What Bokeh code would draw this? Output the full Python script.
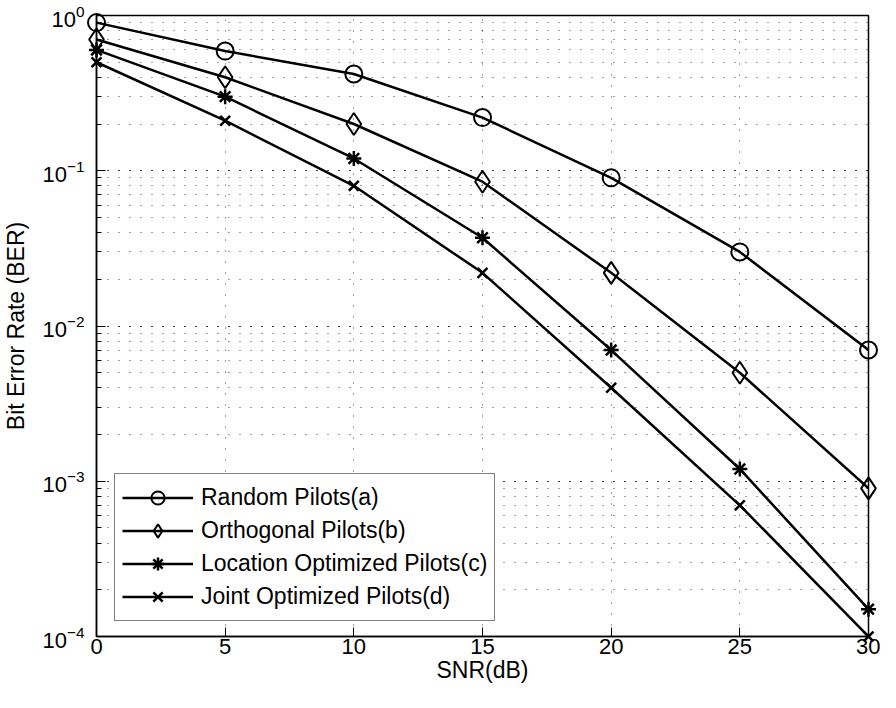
from bokeh.plotting import figure
from bokeh.embed import file_html
from bokeh.resources import INLINE
from bokeh.models import FixedTicker, LogTicker, Legend, LegendItem, Range1d

snr = [0, 5, 10, 15, 20, 25, 30]
ber_random = [0.9, 0.59, 0.42, 0.22, 0.09, 0.03, 0.007]
ber_orth = [0.7, 0.40, 0.20, 0.085, 0.022, 0.005, 0.0009]
ber_loc = [0.6, 0.30, 0.12, 0.037, 0.007, 0.0012, 0.00015]
ber_joint = [0.5, 0.21, 0.08, 0.022, 0.004, 0.0007, 0.0001]
labels = ["Random Pilots(a)", "Orthogonal Pilots(b)", "Location Optimized Pilots(c)", "Joint Optimized Pilots(d)"]
x_ticks = [0, 5, 10, 15, 20, 25, 30]

FONT = "Liberation Sans"

p = figure(width=880, height=692, y_axis_type="log", output_backend="svg",
           toolbar_location=None, x_range=Range1d(0, 30), y_range=Range1d(1e-4, 1),
           min_border_left=90, min_border_top=15, min_border_right=12, min_border_bottom=56)
p.background_fill_color = "white"
p.border_fill_color = "white"
p.outline_line_color = "black"
p.outline_line_width = 1.5

for ax in (p.xaxis[0], p.yaxis[0]):
    ax.major_tick_in = 9
    ax.major_tick_out = 0
    ax.minor_tick_out = 0
    ax.axis_line_width = 1.5
    ax.major_tick_line_width = 1
    ax.major_label_text_font = FONT
    ax.major_label_text_font_size = "22px"
    ax.major_label_text_color = "black"
    ax.axis_label_text_font = FONT
    ax.axis_label_text_font_size = "23px"
    ax.axis_label_text_font_style = "normal"
    ax.axis_label_text_color = "black"

p.xaxis.ticker = FixedTicker(ticks=x_ticks)
p.xaxis.minor_tick_line_color = None
p.xaxis.axis_label = "SNR(dB)"
p.xaxis.major_label_standoff = 2
p.xaxis.axis_label_standoff = 0

p.yaxis.ticker = LogTicker(mantissas=[1], num_minor_ticks=10)
p.yaxis.minor_tick_in = 5
p.yaxis.axis_label = "Bit Error Rate (BER)"
p.yaxis.major_label_standoff = 12
p.yaxis.axis_label_standoff = 10

p.xgrid.ticker = FixedTicker(ticks=x_ticks)
p.xgrid.grid_line_color = "black"
p.xgrid.grid_line_dash = "1 10"
p.xgrid.grid_line_alpha = 0.75
p.ygrid.grid_line_color = "black"
p.ygrid.grid_line_dash = "1 10"
p.ygrid.grid_line_alpha = 0.75
p.ygrid.minor_grid_line_color = "black"
p.ygrid.minor_grid_line_dash = "1 10"
p.ygrid.minor_grid_line_alpha = 0.75

LW = 2.5
items = []
series = [ber_random, ber_orth, ber_loc, ber_joint]
markers = [("circle", 17, 2), ("diamond", 22, 2), ("asterisk", 15, 2.5), ("x", 14, 2.5)]
for i, ys in enumerate(series):
    r_line = p.line(snr, ys, line_color="black", line_width=LW)
    mk, sz, mlw = markers[i]
    r_m = p.scatter(snr, ys, marker=mk, size=sz, fill_color=None, line_color="black",
                    line_width=mlw, level="overlay")
    items.append(LegendItem(label=labels[i], renderers=[r_line, r_m]))

legend = Legend(items=items, location=(18, 15))
legend.label_text_font = FONT
legend.label_text_font_size = "23px"
legend.label_text_color = "black"
legend.glyph_width = 71
legend.glyph_height = 33
legend.spacing = 0
legend.padding = 7
legend.label_standoff = 8
legend.border_line_color = "black"
legend.border_line_width = 1.5
legend.background_fill_alpha = 1
legend.margin = 0
p.add_layout(legend, "center")

open("out.html", "w").write(file_html(p, INLINE))
